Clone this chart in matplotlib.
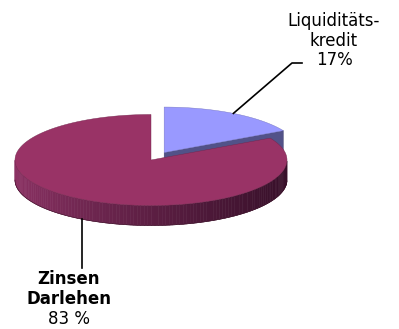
import numpy as np
import matplotlib.pyplot as plt
from matplotlib.patches import Polygon
from matplotlib.collections import PolyCollection
from matplotlib.colors import to_rgb

# shares of the two cost items
labels = ["Liquiditäts-\nkredit", "Zinsen\nDarlehen"]
values = [17, 83]
pct_text = ["17%", "83 %"]
bold = [False, True]

top_colors = ["#9999ff", "#993366"]
side_light = ["#525288", "#8c3264"]
side_dark = ["#3c3c6a", "#38102a"]

# projected pie geometry (pixels, y grows downward)
cx, cy = 151.0, 160.0
rx, ry = 136.0, 45.5
depth = 20.0
explode = [0.19, 0.0]

fig = plt.figure(figsize=(3.99, 3.29), dpi=100)
ax = fig.add_axes([0, 0, 1, 1])
ax.set_xlim(0, 399)
ax.set_ylim(329, 0)
ax.axis("off")


def pt(x0, y0, ang, dz=0.0):
    a = np.radians(ang)
    return x0 + rx * np.cos(a), y0 - ry * np.sin(a) + dz


def mix(c1, c2, t):
    c1, c2 = np.array(to_rgb(c1)), np.array(to_rgb(c2))
    return tuple(c1 + (c2 - c1) * t)


fracs = np.array(values) / np.sum(values)
starts, ends = [], []
ang = 90.0
for f in fracs:
    starts.append(ang - 360 * f)
    ends.append(ang)
    ang -= 360 * f

wedges = []
for i in range(len(values)):
    a0, a1 = starts[i], ends[i]
    mid = np.radians((a0 + a1) / 2)
    ox = cx + explode[i] * rx * np.cos(mid)
    oy = cy - explode[i] * ry * np.sin(mid)
    wedges.append((ox, oy, a0, a1))

# draw back slice first
for i in [0, 1]:
    ox, oy, a0, a1 = wedges[i]
    th = np.linspace(a0, a1, 200)

    # radial face at the start angle (seen from the front on the blue slice)
    if i == 0:
        ex, ey = pt(ox, oy, a0)
        face = [(ox, oy), (ex, ey), (ex, ey + depth), (ox, oy + depth)]
        ax.add_patch(Polygon(face, closed=True, fc=side_light[0], ec=side_dark[0], lw=0.3))

    # outer wall, only the front half is visible
    vis = th[(np.mod(th, 360) > 180) & (np.mod(th, 360) < 360)]
    if len(vis) > 1:
        quads, cols = [], []
        for t0, t1 in zip(vis[:-1], vis[1:]):
            p0, p1 = pt(ox, oy, t0), pt(ox, oy, t1)
            quads.append([p0, p1, (p1[0], p1[1] + depth), (p0[0], p0[1] + depth)])
            s = (p0[0] - (ox - rx)) / (2 * rx)
            cols.append(mix(side_light[i], side_dark[i], s ** 0.8))
        ax.add_collection(PolyCollection(quads, facecolors=cols, edgecolors=cols, linewidths=0.4))
        bx, by = zip(*[pt(ox, oy, t, depth) for t in vis])
        ax.plot(bx, by, color="#3a0f26", lw=0.4)

    # top face
    rim = [pt(ox, oy, t) for t in th]
    ax.add_patch(Polygon([(ox, oy)] + rim, closed=True, fc=top_colors[i],
                         ec=mix(top_colors[i], "#000000", 0.25), lw=0.3))

# leader lines and labels
ox, oy, a0, a1 = wedges[0]
sx, sy = pt(ox, oy, (a0 + a1) / 2)
ax.plot([sx, 292, 302], [sy, 63, 63], color="black", lw=1.2)
for k, line in enumerate(labels[0].split("\n") + [pct_text[0]]):
    ax.text(334, 26 + 19.5 * k, line, ha="center", va="baseline",
            fontsize=12, family="DejaVu Sans", color="black")

ox, oy, a0, a1 = wedges[1]
sx, sy = pt(ox, oy, (a0 + a1) / 2, depth)
ax.plot([sx, sx], [sy, 268], color="black", lw=1.2)
lines = labels[1].split("\n") + [pct_text[1]]
for k, line in enumerate(lines):
    w = "bold" if (bold[1] and k < len(lines) - 1) else "normal"
    ax.text(69, 284 + 20 * k, line, ha="center", va="baseline",
            fontsize=12, family="DejaVu Sans", fontweight=w, color="black")

fig.savefig("out.png", dpi=100)
